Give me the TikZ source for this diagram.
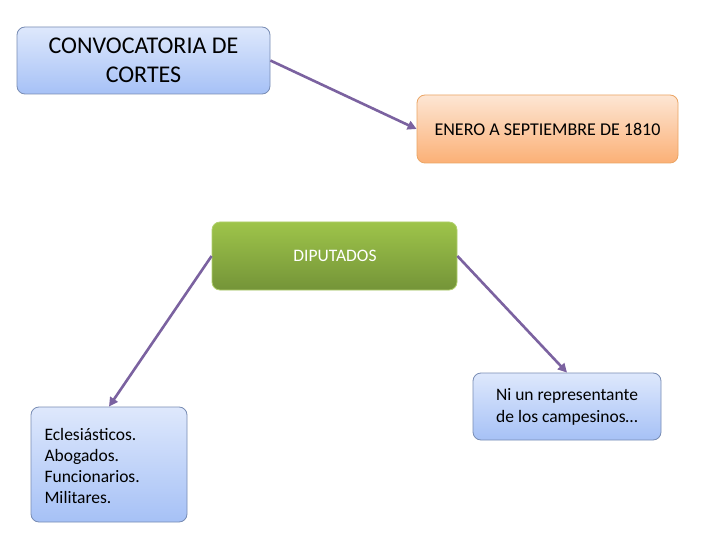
\documentclass[tikz,border=0pt]{standalone}
\usepackage{fontspec}
\setmainfont{Carlito}
\usetikzlibrary{positioning,arrows.meta}

\definecolor{linkpurple}{RGB}{123,98,160}
\definecolor{blueTop}{RGB}{222,232,252}
\definecolor{blueBot}{RGB}{166,193,246}
\definecolor{blueLine}{RGB}{120,140,180}
\definecolor{orangeTop}{RGB}{253,230,212}
\definecolor{orangeBot}{RGB}{251,176,118}
\definecolor{orangeLine}{RGB}{235,165,100}
\definecolor{greenTop}{RGB}{158,196,74}
\definecolor{greenBot}{RGB}{116,148,56}

\begin{document}
\begin{tikzpicture}[x=1pt, y=-1pt,
    bluebox/.style={rectangle, rounded corners=8pt, draw=blueLine, line width=0.8pt,
        top color=blueTop, bottom color=blueBot, inner sep=0pt},
    orangebox/.style={rectangle, rounded corners=8pt, draw=orangeLine, line width=0.8pt,
        top color=orangeTop, bottom color=orangeBot, inner sep=0pt},
    greenbox/.style={rectangle, rounded corners=8pt, draw=greenTop!80!white, line width=0.8pt,
        top color=greenTop, bottom color=greenBot, inner sep=0pt, text=white},
    arrow/.style={-{Triangle[length=9pt,width=9pt]}, draw=linkpurple, fill=linkpurple, line width=2.6pt}]

    \useasboundingbox[fill=white] (0,0) rectangle (720,540);

    % Boxes
    \node[bluebox, minimum width=253pt, minimum height=67pt, align=center,
          font=\fontsize{24}{29}\selectfont] (convocatoria) at (143.5,60.5)
        {CONVOCATORIA DE\\CORTES};
    \node[orangebox, minimum width=261pt, minimum height=68pt,
          font=\fontsize{18}{22}\selectfont] (enero) at (547.5,129)
        {ENERO A SEPTIEMBRE DE 1810};
    \node[greenbox, minimum width=245pt, minimum height=68pt] (diputados) at (334.5,256) {};
    \node[text=white, font=\fontsize{17.5}{21}\selectfont] at (335,256) {DIPUTADOS};
    \node[bluebox, minimum width=156pt, minimum height=115pt] (grupos) at (109,464.5) {};
    \node[align=left, anchor=west, font=\fontsize{17.5}{21}\selectfont] at (41,465.5)
        {Eclesiásticos.\\Abogados.\\Funcionarios.\\Militares.};
    \node[bluebox, minimum width=188pt, minimum height=67pt, align=center,
          font=\fontsize{17.5}{22}\selectfont] (campesinos) at (567,406.5)
        {Ni un representante\\de los campesinos…};

    % Connectors
    \draw[arrow] (convocatoria.east) -- (enero.west);
    \draw[arrow] (diputados.west) -- (grupos.north);
    \draw[arrow] (diputados.east) -- (campesinos.north);
\end{tikzpicture}
\end{document}
